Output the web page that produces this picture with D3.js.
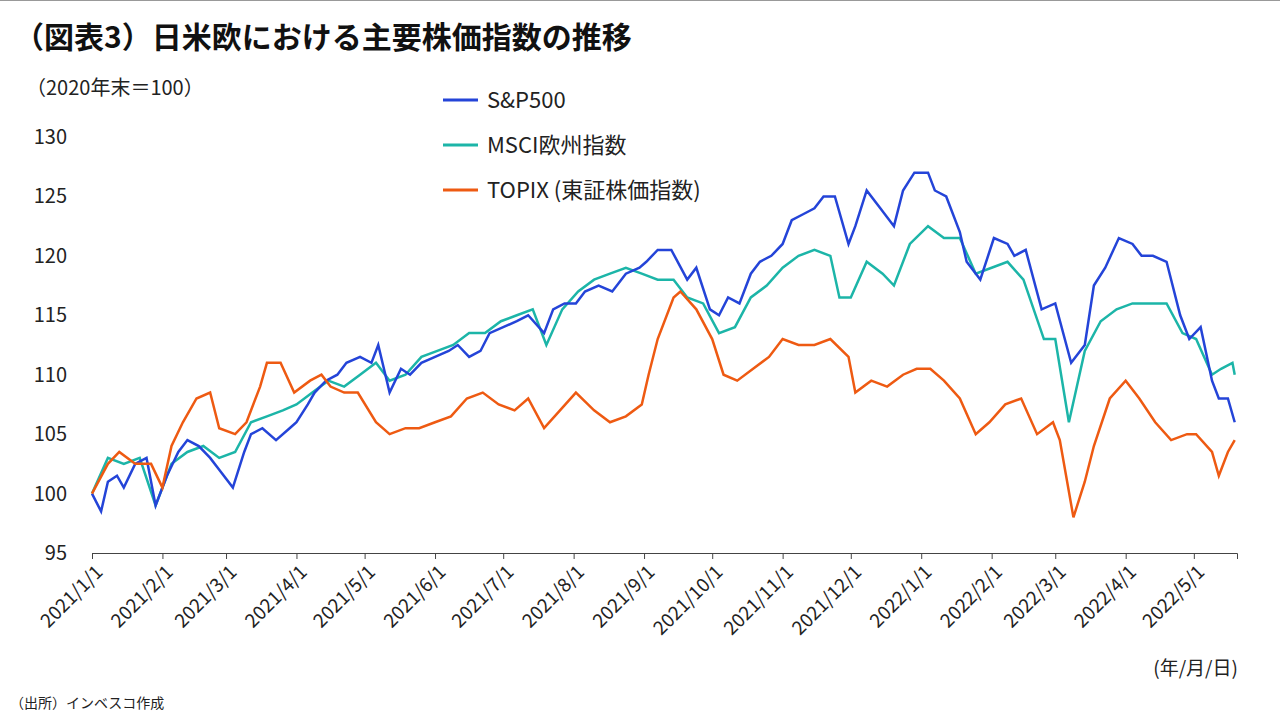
<!DOCTYPE html>
<html><head><meta charset="utf-8">
<script src="https://cdn.jsdelivr.net/npm/d3@7"></script>
<style>body{margin:0;background:#fff;font-family:"Noto Sans CJK JP","Noto Sans",sans-serif}</style>
</head><body>
<svg id="c" width="1280" height="720"></svg>
<script>
var monthTicks = ['2021/1/1','2021/2/1','2021/3/1','2021/4/1','2021/5/1','2021/6/1','2021/7/1','2021/8/1','2021/9/1','2021/10/1','2021/11/1','2021/12/1','2022/1/1','2022/2/1','2022/3/1','2022/4/1','2022/5/1'];
var yTicks = [95,100,105,110,115,120,125,130];

var sp500 = [['2021/1/1',100],['2021/1/5',98.5],['2021/1/8',101],['2021/1/12',101.5],['2021/1/15',100.5],['2021/1/20',102.5],['2021/1/25',103],['2021/1/29',99],['2021/2/3',101.5],['2021/2/8',103.5],['2021/2/12',104.5],['2021/2/17',104],['2021/2/22',103],['2021/2/26',102],['2021/3/4',100.5],['2021/3/9',103.5],['2021/3/12',105],['2021/3/17',105.5],['2021/3/23',104.5],['2021/3/29',105.5],['2021/4/1',106],['2021/4/6',107.5],['2021/4/9',108.5],['2021/4/14',109.5],['2021/4/19',110],['2021/4/23',111],['2021/4/29',111.5],['2021/5/4',111],['2021/5/7',112.5],['2021/5/12',108.5],['2021/5/17',110.5],['2021/5/21',110],['2021/5/26',111],['2021/6/1',111.5],['2021/6/7',112],['2021/6/11',112.5],['2021/6/16',111.5],['2021/6/21',112],['2021/6/25',113.5],['2021/7/1',114],['2021/7/7',114.5],['2021/7/12',115],['2021/7/19',113.5],['2021/7/23',115.5],['2021/7/28',116],['2021/8/2',116],['2021/8/6',117],['2021/8/12',117.5],['2021/8/18',117],['2021/8/24',118.5],['2021/8/30',119],['2021/9/2',119.5],['2021/9/7',120.5],['2021/9/13',120.5],['2021/9/20',118],['2021/9/24',119],['2021/9/30',115.5],['2021/10/4',115],['2021/10/8',116.5],['2021/10/13',116],['2021/10/18',118.5],['2021/10/22',119.5],['2021/10/27',120],['2021/11/1',121],['2021/11/5',123],['2021/11/10',123.5],['2021/11/15',124],['2021/11/19',125],['2021/11/24',125],['2021/11/30',121],['2021/12/3',122.5],['2021/12/8',125.5],['2021/12/14',124],['2021/12/20',122.5],['2021/12/24',125.5],['2021/12/29',127],['2022/1/4',127],['2022/1/7',125.5],['2022/1/12',125],['2022/1/18',122],['2022/1/21',119.5],['2022/1/27',118],['2022/2/2',121.5],['2022/2/8',121],['2022/2/11',120],['2022/2/16',120.5],['2022/2/23',115.5],['2022/3/1',116],['2022/3/8',111],['2022/3/14',112.5],['2022/3/18',117.5],['2022/3/23',119],['2022/3/29',121.5],['2022/4/4',121],['2022/4/8',120],['2022/4/13',120],['2022/4/19',119.5],['2022/4/25',115],['2022/4/29',113],['2022/5/4',114],['2022/5/9',109.5],['2022/5/12',108],['2022/5/16',108],['2022/5/19',106]];
var msciEurope = [['2021/1/1',100],['2021/1/8',103],['2021/1/15',102.5],['2021/1/22',103],['2021/1/29',99],['2021/2/5',102.5],['2021/2/12',103.5],['2021/2/19',104],['2021/2/26',103],['2021/3/5',103.5],['2021/3/12',106],['2021/3/19',106.5],['2021/3/26',107],['2021/4/1',107.5],['2021/4/8',108.5],['2021/4/15',109.5],['2021/4/22',109],['2021/4/29',110],['2021/5/6',111],['2021/5/12',109.5],['2021/5/19',110],['2021/5/26',111.5],['2021/6/2',112],['2021/6/9',112.5],['2021/6/16',113.5],['2021/6/23',113.5],['2021/6/30',114.5],['2021/7/7',115],['2021/7/14',115.5],['2021/7/20',112.5],['2021/7/27',115.5],['2021/8/3',117],['2021/8/10',118],['2021/8/17',118.5],['2021/8/24',119],['2021/8/31',118.5],['2021/9/7',118],['2021/9/14',118],['2021/9/20',116.5],['2021/9/27',116],['2021/10/4',113.5],['2021/10/11',114],['2021/10/18',116.5],['2021/10/25',117.5],['2021/11/1',119],['2021/11/8',120],['2021/11/15',120.5],['2021/11/22',120],['2021/11/26',116.5],['2021/12/1',116.5],['2021/12/8',119.5],['2021/12/15',118.5],['2021/12/20',117.5],['2021/12/27',121],['2022/1/4',122.5],['2022/1/11',121.5],['2022/1/18',121.5],['2022/1/25',118.5],['2022/2/1',119],['2022/2/8',119.5],['2022/2/15',118],['2022/2/24',113],['2022/3/1',113],['2022/3/7',106],['2022/3/14',112],['2022/3/21',114.5],['2022/3/28',115.5],['2022/4/4',116],['2022/4/11',116],['2022/4/19',116],['2022/4/26',113.5],['2022/5/2',113],['2022/5/9',110],['2022/5/13',110.5],['2022/5/18',111],['2022/5/19',110]];
var topix = [['2021/1/1',100],['2021/1/8',102.5],['2021/1/13',103.5],['2021/1/20',102.5],['2021/1/27',102.5],['2021/2/1',100.5],['2021/2/5',104],['2021/2/10',106],['2021/2/16',108],['2021/2/22',108.5],['2021/2/26',105.5],['2021/3/5',105],['2021/3/10',106],['2021/3/16',109],['2021/3/19',111],['2021/3/25',111],['2021/3/31',108.5],['2021/4/7',109.5],['2021/4/12',110],['2021/4/16',109],['2021/4/22',108.5],['2021/4/28',108.5],['2021/5/6',106],['2021/5/12',105],['2021/5/19',105.5],['2021/5/25',105.5],['2021/6/1',106],['2021/6/8',106.5],['2021/6/15',108],['2021/6/22',108.5],['2021/6/29',107.5],['2021/7/6',107],['2021/7/12',108],['2021/7/19',105.5],['2021/7/26',107],['2021/8/2',108.5],['2021/8/10',107],['2021/8/17',106],['2021/8/24',106.5],['2021/8/31',107.5],['2021/9/3',110],['2021/9/7',113],['2021/9/14',116.5],['2021/9/17',117],['2021/9/24',115.5],['2021/10/1',113],['2021/10/6',110],['2021/10/12',109.5],['2021/10/19',110.5],['2021/10/26',111.5],['2021/11/1',113],['2021/11/8',112.5],['2021/11/15',112.5],['2021/11/22',113],['2021/11/30',111.5],['2021/12/3',108.5],['2021/12/10',109.5],['2021/12/17',109],['2021/12/24',110],['2021/12/30',110.5],['2022/1/5',110.5],['2022/1/11',109.5],['2022/1/18',108],['2022/1/25',105],['2022/1/31',106],['2022/2/7',107.5],['2022/2/14',108],['2022/2/21',105],['2022/2/28',106],['2022/3/3',104.5],['2022/3/9',98],['2022/3/14',101],['2022/3/18',104],['2022/3/25',108],['2022/4/1',109.5],['2022/4/7',108],['2022/4/14',106],['2022/4/21',104.5],['2022/4/28',105],['2022/5/2',105],['2022/5/9',103.5],['2022/5/12',101.5],['2022/5/16',103.5],['2022/5/19',104.5]];

var seriesNames = ['S&P500','MSCI欧州指数','TOPIX (東証株価指数)'];
var seriesColors = ['#2444d8','#1cb5a8','#ee5a12'];

var parse = d3.timeParse('%Y/%m/%d');
var svg = d3.select('#c');
var x = d3.scaleTime().domain([parse('2021/1/1'), parse('2022/5/20')]).range([92,1237]);
var y = d3.scaleLinear().domain([95,130]).range([553,137]);

svg.append('line').attr('x1',0).attr('x2',1280).attr('y1',0.5).attr('y2',0.5).attr('stroke','#999');
svg.append('text').attr('x',14).attr('y',48).attr('font-size',30).attr('font-weight','bold').attr('fill','#111')
	.text('（図表3）日米欧における主要株価指数の推移');
svg.append('text').attr('x',26).attr('y',95).attr('font-size',20).attr('fill','#222').text('（2020年末＝100）');

yTicks.forEach(function(t){
	svg.append('text').attr('x',67).attr('y',y(t)+7).attr('text-anchor','end').attr('font-size',20).attr('fill','#222').text(t);
});

var xa = svg.append('g').attr('transform','translate(0,553)')
	.call(d3.axisBottom(x).tickValues(monthTicks.map(parse)).tickSize(6).tickFormat(d3.timeFormat('%Y/%-m/%-d')));
xa.select('.domain').attr('stroke','#444');
xa.selectAll('line').attr('stroke','#444');
xa.selectAll('text').attr('font-size',19).attr('fill','#222').attr('font-family','"Noto Sans CJK JP",sans-serif')
	.attr('text-anchor','end').attr('dx',0).attr('dy',0).attr('transform','translate(5,14) rotate(-45)');

var line = d3.line().x(function(d){return x(parse(d[0]));}).y(function(d){return y(d[1]);});
[msciEurope, sp500, topix].forEach(function(s,i){
	var idx = [1,0,2][i];
	svg.append('path').datum(s).attr('d',line).attr('fill','none').attr('stroke',seriesColors[idx]).attr('stroke-width',2.5);
});

seriesNames.forEach(function(n,i){
	var ly = 100 + i*45;
	svg.append('line').attr('x1',443).attr('x2',478).attr('y1',ly).attr('y2',ly).attr('stroke',seriesColors[i]).attr('stroke-width',3);
	svg.append('text').attr('x',487).attr('y',ly+8).attr('font-size',22).attr('fill','#222').text(n);
});

svg.append('text').attr('x',1238).attr('y',675).attr('text-anchor','end').attr('font-size',19).attr('fill','#222').text('(年/月/日)');
svg.append('text').attr('x',10).attr('y',708).attr('font-size',14).attr('fill','#222').text('（出所）インベスコ作成');
</script>
</body></html>
